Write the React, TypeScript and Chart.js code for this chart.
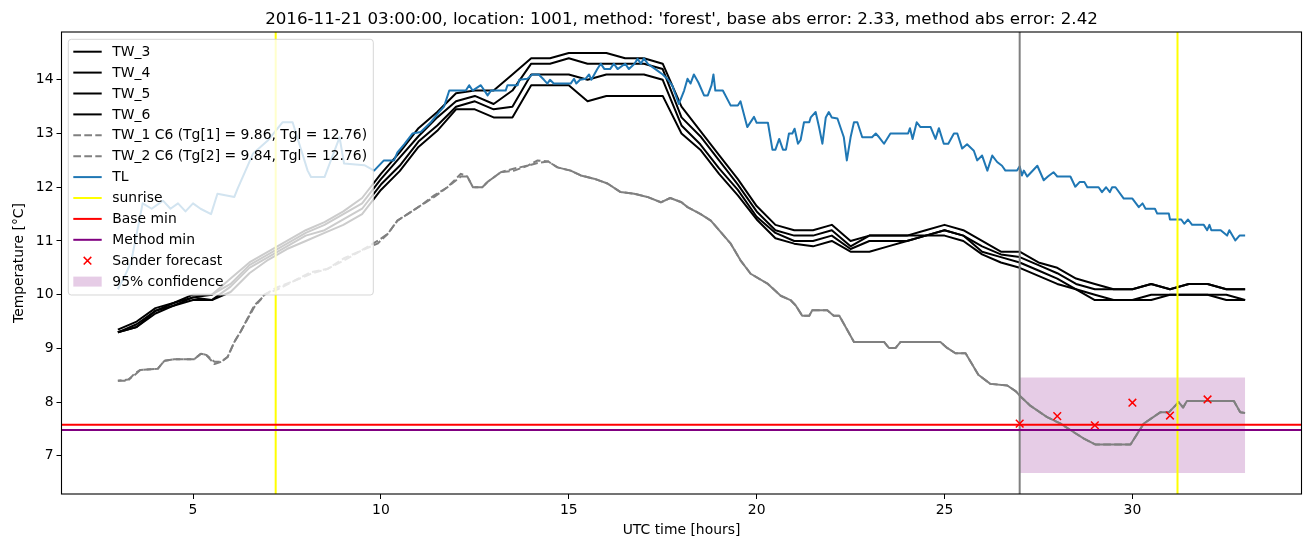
import React, { useEffect, useRef } from "react";
import { Chart, registerables } from "chart.js";
Chart.register(...registerables);

const FONT = '"DejaVu Sans", sans-serif';

const TITLE = "2016-11-21 03:00:00, location: 1001, method: 'forest', base abs error: 2.33, method abs error: 2.42";
const X_LABEL = "UTC time [hours]";
const Y_LABEL = "Temperature [°C]";

const xTicks = [5, 10, 15, 20, 25, 30];
const yTicks = [7, 8, 9, 10, 11, 12, 13, 14];
const X_MIN = 1.5;
const X_MAX = 34.5;
const Y_MIN = 6.29;
const Y_MAX = 14.89;

// common half-hour grid for the TW_3..TW_6 sensors
const twTimes = [3, 3.5, 4, 4.5, 5, 5.5, 6, 6.5, 7, 7.5, 8, 8.5, 9, 9.5, 10, 10.5, 11, 11.5, 12, 12.5, 13, 13.5, 14, 14.5, 15, 15.5, 16, 16.5, 17, 17.5, 18, 18.5, 19, 19.5, 20, 20.5, 21, 21.5, 22, 22.5, 23, 23.5, 24, 24.5, 25, 25.5, 26, 26.5, 27, 27.5, 28, 28.5, 29, 29.5, 30, 30.5, 31, 31.5, 32, 32.5, 33];
const tw3 = [9.35, 9.5, 9.75, 9.85, 10.0, 10.0, 10.3, 10.6, 10.8, 11.0, 11.2, 11.35, 11.55, 11.8, 12.25, 12.65, 13.1, 13.4, 13.75, 13.8, 13.8, 14.1, 14.4, 14.4, 14.5, 14.5, 14.5, 14.4, 14.4, 14.3, 13.5, 13.05, 12.6, 12.15, 11.65, 11.3, 11.2, 11.2, 11.3, 11.0, 11.1, 11.1, 11.1, 11.2, 11.3, 11.2, 11.0, 10.8, 10.8, 10.6, 10.5, 10.3, 10.2, 10.1, 10.1, 10.2, 10.1, 10.2, 10.2, 10.1, 10.1];
const tw4 = [9.3, 9.45, 9.7, 9.85, 9.95, 10.0, 10.2, 10.55, 10.75, 10.95, 11.15, 11.3, 11.5, 11.7, 12.15, 12.55, 12.95, 13.3, 13.6, 13.7, 13.55, 13.8, 14.3, 14.3, 14.4, 14.3, 14.3, 14.3, 14.3, 14.2, 13.3, 12.95, 12.5, 12.05, 11.55, 11.2, 11.1, 11.1, 11.2, 10.9, 11.1, 11.1, 11.1, 11.1, 11.2, 11.1, 10.9, 10.75, 10.7, 10.55, 10.4, 10.2, 10.1, 10.1, 10.1, 10.2, 10.1, 10.2, 10.2, 10.1, 10.1];
const tw5 = [9.3, 9.4, 9.7, 9.8, 9.95, 9.9, 10.15, 10.5, 10.7, 10.9, 11.1, 11.2, 11.4, 11.6, 12.05, 12.4, 12.85, 13.15, 13.5, 13.6, 13.45, 13.5, 14.1, 14.1, 14.1, 14.0, 14.1, 14.1, 14.1, 14.0, 13.15, 12.8, 12.35, 11.95, 11.45, 11.15, 11.0, 11.0, 11.1, 10.85, 11.0, 11.0, 11.0, 11.1, 11.2, 11.1, 10.8, 10.7, 10.6, 10.45, 10.3, 10.1, 10.0, 9.9, 9.9, 10.0, 10.0, 10.0, 10.0, 10.0, 9.9];
const tw6 = [9.3, 9.4, 9.65, 9.8, 9.9, 9.9, 10.05, 10.4, 10.65, 10.85, 11.0, 11.15, 11.3, 11.5, 11.95, 12.3, 12.75, 13.05, 13.45, 13.45, 13.3, 13.3, 13.9, 13.9, 13.9, 13.6, 13.7, 13.7, 13.7, 13.7, 13.0, 12.7, 12.25, 11.85, 11.4, 11.05, 10.95, 10.9, 11.0, 10.8, 10.8, 10.9, 11.0, 11.1, 11.1, 11.0, 10.75, 10.6, 10.5, 10.35, 10.2, 10.1, 9.9, 9.9, 9.9, 9.9, 10.0, 10.0, 10.0, 9.9, 9.9];

// [time, value]
const tw1: [number, number][] = [
  [3.0, 8.4], [3.27, 8.4], [3.44, 8.53], [3.6, 8.6], [4.06, 8.62], [4.24, 8.77], [4.5, 8.8], [5.03, 8.8], [5.21, 8.9], [5.35, 8.88],
  [5.57, 8.71], [5.75, 8.75], [5.92, 8.84], [6.1, 9.12], [6.28, 9.33], [6.63, 9.77], [6.81, 9.92], [6.9, 10.0], [7.25, 10.14], [7.7, 10.26],
  [8.14, 10.39], [8.58, 10.48], [9.02, 10.64], [9.47, 10.82], [9.91, 10.95], [10.18, 11.13], [10.44, 11.38], [10.71, 11.5], [11.06, 11.66], [11.42, 11.82],
  [11.77, 12.0], [12.13, 12.2], [12.3, 12.2], [12.45, 12.0], [12.7, 12.0], [12.84, 12.1], [13.19, 12.28], [13.55, 12.31], [13.9, 12.4], [14.17, 12.5],
  [14.45, 12.48], [14.7, 12.37], [15.05, 12.31], [15.32, 12.22], [15.67, 12.16], [16.03, 12.07], [16.38, 11.91], [16.74, 11.88], [17.09, 11.82], [17.45, 11.72],
  [17.7, 11.8], [18.0, 11.72], [18.16, 11.63], [18.51, 11.5], [18.78, 11.38], [19.31, 10.95], [19.57, 10.64], [19.84, 10.39], [20.3, 10.2], [20.64, 9.98],
  [20.9, 9.9], [21.04, 9.8], [21.21, 9.61], [21.4, 9.61], [21.48, 9.71], [21.88, 9.71], [22.05, 9.61], [22.2, 9.61], [22.59, 9.12], [23.39, 9.12],
  [23.52, 9.01], [23.7, 9.01], [23.83, 9.12], [24.89, 9.12], [25.07, 9.01], [25.29, 8.91], [25.56, 8.91], [25.9, 8.51], [26.22, 8.34], [26.67, 8.31],
  [26.9, 8.2], [27.0, 8.12], [27.29, 7.93], [27.73, 7.72], [28.09, 7.6], [28.44, 7.44], [28.71, 7.32], [29.02, 7.21], [29.95, 7.21], [30.3, 7.6],
  [30.74, 7.81], [30.97, 7.81], [31.23, 8.0], [31.35, 7.9], [31.45, 8.02], [32.7, 8.02], [32.87, 7.81], [33.0, 7.8],
];
const tw2: [number, number][] = [
  [3.0, 8.4], [3.27, 8.42], [3.44, 8.5], [3.6, 8.6], [4.06, 8.62], [4.24, 8.77], [4.5, 8.8], [5.03, 8.8], [5.21, 8.9], [5.35, 8.88],
  [5.57, 8.75], [5.75, 8.75], [5.92, 8.84], [6.1, 9.12], [6.28, 9.33], [6.63, 9.8], [6.81, 9.92], [6.9, 10.0], [7.25, 10.1], [7.7, 10.26],
  [8.14, 10.42], [8.58, 10.48], [9.02, 10.68], [9.47, 10.82], [9.91, 11.0], [10.18, 11.13], [10.44, 11.38], [10.71, 11.5], [11.06, 11.66], [11.42, 11.85],
  [11.77, 12.0], [12.13, 12.25], [12.3, 12.2], [12.45, 12.0], [12.7, 12.0], [12.84, 12.1], [13.19, 12.28], [13.55, 12.35], [13.9, 12.4], [14.17, 12.45],
  [14.45, 12.48], [14.7, 12.37], [15.05, 12.31], [15.32, 12.22], [15.67, 12.16], [16.03, 12.07], [16.38, 11.91], [16.74, 11.88], [17.09, 11.82], [17.45, 11.72],
  [17.7, 11.8], [18.0, 11.72], [18.16, 11.63], [18.51, 11.5], [18.78, 11.38], [19.31, 10.95], [19.57, 10.64], [19.84, 10.39], [20.3, 10.2], [20.64, 9.98],
  [20.9, 9.9], [21.04, 9.8], [21.21, 9.61], [21.4, 9.61], [21.48, 9.71], [21.88, 9.71], [22.05, 9.61], [22.2, 9.61], [22.59, 9.12], [23.39, 9.12],
  [23.52, 9.01], [23.7, 9.01], [23.83, 9.12], [24.89, 9.12], [25.07, 9.01], [25.29, 8.91], [25.56, 8.91], [25.9, 8.51], [26.22, 8.34], [26.67, 8.31],
  [26.9, 8.2], [27.0, 8.12], [27.29, 7.93], [27.73, 7.72], [28.09, 7.6], [28.44, 7.44], [28.71, 7.32], [29.02, 7.21], [29.95, 7.21], [30.3, 7.6],
  [30.74, 7.81], [30.97, 7.81], [31.23, 8.0], [31.35, 7.9], [31.45, 8.02], [32.7, 8.02], [32.87, 7.81], [33.0, 7.8],
];

const tl: [number, number][] = [
  [3.0, 10.1], [3.15, 10.3], [3.35, 10.6], [3.66, 11.7], [3.9, 11.6], [4.2, 11.75], [4.4, 11.6], [4.6, 11.7], [4.8, 11.55], [5.0, 11.7],
  [5.2, 11.6], [5.48, 11.5], [5.65, 11.88], [6.1, 11.82], [6.19, 11.98], [6.6, 12.63], [6.99, 12.87], [7.38, 13.21], [7.65, 13.21], [8.05, 12.31],
  [8.14, 12.19], [8.5, 12.19], [8.9, 12.93], [9.02, 12.44], [9.56, 12.41], [9.82, 12.31], [10.08, 12.5], [10.35, 12.5], [10.44, 12.65], [10.62, 12.8],
  [10.84, 13.0], [11.06, 13.03], [11.33, 13.21], [11.55, 13.4], [11.68, 13.5], [11.82, 13.8], [12.26, 13.8], [12.35, 13.9], [12.44, 13.8], [12.66, 13.9],
  [12.84, 13.71], [12.93, 13.8], [13.32, 13.8], [13.37, 13.9], [13.64, 13.9], [13.68, 14.0], [13.9, 14.02], [14.03, 14.1], [14.2, 14.1], [14.34, 14.0],
  [14.43, 13.93], [14.5, 14.0], [14.6, 13.93], [15.05, 13.93], [15.14, 14.02], [15.2, 13.93], [15.3, 14.0], [15.45, 14.02], [15.54, 14.1], [15.6, 14.0],
  [15.76, 14.2], [15.85, 14.3], [15.95, 14.2], [16.1, 14.2], [16.2, 14.3], [16.3, 14.2], [16.5, 14.3], [16.6, 14.2], [16.75, 14.3], [16.83, 14.39],
  [16.92, 14.3], [17.0, 14.4], [17.1, 14.3], [17.36, 14.17], [17.5, 14.1], [17.62, 14.02], [17.75, 13.9], [17.93, 13.55], [18.07, 13.8], [18.16, 14.02],
  [18.24, 13.93], [18.33, 14.1], [18.45, 13.95], [18.6, 13.71], [18.7, 13.71], [18.8, 13.9], [18.85, 14.1], [18.9, 13.8], [19.1, 13.8], [19.31, 13.52],
  [19.5, 13.52], [19.57, 13.6], [19.75, 13.12], [19.93, 13.31], [20.0, 13.2], [20.3, 13.2], [20.42, 12.7], [20.5, 12.7], [20.6, 12.9], [20.7, 12.7],
  [20.78, 12.7], [20.86, 13.0], [20.95, 13.0], [21.01, 13.09], [21.1, 12.81], [21.17, 12.88], [21.26, 13.21], [21.4, 13.21], [21.44, 13.3], [21.57, 13.4],
  [21.66, 13.12], [21.75, 12.81], [21.84, 13.3], [21.92, 13.4], [22.0, 13.3], [22.15, 13.28], [22.32, 12.93], [22.4, 12.5], [22.5, 12.93], [22.59, 13.21],
  [22.68, 13.21], [22.81, 12.93], [23.07, 12.93], [23.17, 13.0], [23.26, 12.93], [23.39, 12.81], [23.56, 13.0], [24.03, 13.0], [24.08, 13.1], [24.15, 12.9],
  [24.26, 13.21], [24.36, 13.12], [24.63, 13.12], [24.76, 12.9], [24.85, 13.1], [24.98, 12.81], [25.1, 12.81], [25.25, 13.0], [25.34, 13.0], [25.47, 12.72],
  [25.6, 12.8], [25.78, 12.68], [25.87, 12.5], [26.0, 12.59], [26.14, 12.31], [26.27, 12.59], [26.4, 12.47], [26.53, 12.4], [26.62, 12.31], [26.93, 12.31],
  [27.0, 12.39], [27.06, 12.22], [27.11, 12.31], [27.2, 12.2], [27.47, 12.4], [27.64, 12.13], [27.75, 12.2], [27.9, 12.28], [28.0, 12.2], [28.35, 12.2],
  [28.48, 12.01], [28.6, 12.1], [28.72, 12.1], [28.8, 12.0], [29.1, 12.0], [29.19, 11.91], [29.3, 12.0], [29.4, 11.91], [29.46, 12.0], [29.55, 12.0],
  [29.77, 11.79], [30.0, 11.79], [30.17, 11.63], [30.27, 11.7], [30.35, 11.6], [30.6, 11.6], [30.66, 11.51], [30.97, 11.51], [31.0, 11.4], [31.3, 11.4],
  [31.38, 11.32], [31.48, 11.4], [31.59, 11.3], [31.9, 11.3], [31.99, 11.2], [32.05, 11.3], [32.1, 11.2], [32.35, 11.2], [32.52, 11.1], [32.58, 11.2],
  [32.74, 11.01], [32.85, 11.1], [33.0, 11.1],
];

const sunriseTimes = [7.2, 31.2];
const forecastStart = 27.0;
const baseMin = 7.58;
const methodMin = 7.48;
const sanderTimes = [27, 28, 29, 30, 31, 32];
const sanderValues = [7.6, 7.74, 7.57, 7.99, 7.75, 8.05];
const confTimes = [27, 33];
const confLow = 6.68;
const confHigh = 8.46;

const legendLabels = [
  "TW_3", "TW_4", "TW_5", "TW_6",
  "TW_1 C6 (Tg[1] = 9.86, Tgl = 12.76)",
  "TW_2 C6 (Tg[2] = 9.84, Tgl = 12.76)",
  "TL", "sunrise", "Base min", "Method min", "Sander forecast", "95% confidence",
];

const BLUE = "#1f77b4";
const GRAY = "#808080";
const DASH = [7.7, 3.3];
const CONF_FILL = "rgba(128,0,128,0.2)";

const pairs = (p: [number, number][]) => p.map(([x, y]) => ({ x, y }));
const grid = (times: number[], vals: number[]) => times.map((x, i) => ({ x, y: vals[i] }));

const lineDs = (label: string, data: any[], color: string, extra: any = {}) => ({
  label,
  data,
  borderColor: color,
  backgroundColor: color,
  borderWidth: 2,
  pointRadius: 0,
  borderJoinStyle: "round",
  fill: false,
  tension: 0,
  ...extra,
});

function buildDatasets() {
  const list: any[] = [];
  list.push(
    lineDs("95% confidence", confTimes.map((x) => ({ x, y: confHigh })), "rgba(0,0,0,0)", {
      borderWidth: 0,
      fill: { value: confLow },
      backgroundColor: CONF_FILL,
    })
  );
  list.push(lineDs("TW_3", grid(twTimes, tw3), "#000"));
  list.push(lineDs("TW_4", grid(twTimes, tw4), "#000"));
  list.push(lineDs("TW_5", grid(twTimes, tw5), "#000"));
  list.push(lineDs("TW_6", grid(twTimes, tw6), "#000"));
  list.push(lineDs(legendLabels[4], pairs(tw1), GRAY, { borderDash: DASH }));
  list.push(
    lineDs(legendLabels[5], pairs(tw2), GRAY, {
      borderDash: DASH,
      borderDashOffset: 4,
      segment: { borderDash: (ctx: any) => (ctx.p0.parsed.x >= 14.5 ? [] : undefined) },
    })
  );
  list.push(lineDs("TL", pairs(tl), BLUE));
  sunriseTimes.forEach((t) =>
    list.push(lineDs("sunrise", [{ x: t, y: Y_MIN }, { x: t, y: Y_MAX }], "#ffff00"))
  );
  list.push(lineDs("forecast", [{ x: forecastStart, y: Y_MIN }, { x: forecastStart, y: Y_MAX }], GRAY));
  list.push(lineDs("Base min", [{ x: X_MIN, y: baseMin }, { x: X_MAX, y: baseMin }], "#ff0000"));
  list.push(lineDs("Method min", [{ x: X_MIN, y: methodMin }, { x: X_MAX, y: methodMin }], "#800080"));
  list.push({
    label: "Sander forecast",
    data: grid(sanderTimes, sanderValues),
    showLine: false,
    pointStyle: "crossRot",
    pointRadius: 5.4,
    pointBorderWidth: 1.5,
    borderColor: "#ff0000",
    backgroundColor: "#ff0000",
    pointBorderColor: "#ff0000",
  });
  return list.map((d, i) => ({ ...d, order: 100 - i }));
}

type LegendItem = { kind: "line" | "dash" | "marker" | "patch"; color: string };
const legendStyles: LegendItem[] = [
  { kind: "line", color: "#000" },
  { kind: "line", color: "#000" },
  { kind: "line", color: "#000" },
  { kind: "line", color: "#000" },
  { kind: "dash", color: GRAY },
  { kind: "dash", color: GRAY },
  { kind: "line", color: BLUE },
  { kind: "line", color: "#ffff00" },
  { kind: "line", color: "#ff0000" },
  { kind: "line", color: "#800080" },
  { kind: "marker", color: "#ff0000" },
  { kind: "patch", color: CONF_FILL },
];

const framePlugin = {
  id: "frame",
  afterDatasetsDraw(chart: any) {
    const { ctx, chartArea: a } = chart;
    ctx.save();
    ctx.strokeStyle = "#000";
    ctx.lineWidth = 1.1;
    ctx.strokeRect(a.left, a.top, a.right - a.left, a.bottom - a.top);
    ctx.restore();
  },
};

const decorPlugin = {
  id: "decor",
  afterDraw(chart: any) {
    const { ctx, chartArea: a } = chart;
    ctx.save();
    // title
    ctx.fillStyle = "#000";
    ctx.font = `16.7px ${FONT}`;
    ctx.textAlign = "center";
    ctx.textBaseline = "alphabetic";
    ctx.fillText(TITLE, (a.left + a.right) / 2, 23.5);
    // axis labels
    ctx.font = `13.9px ${FONT}`;
    ctx.fillText(X_LABEL, (a.left + a.right) / 2, 534);
    ctx.save();
    ctx.translate(23, (a.top + a.bottom) / 2);
    ctx.rotate(-Math.PI / 2);
    ctx.fillText(Y_LABEL, 0, 0);
    ctx.restore();

    // legend
    const x0 = a.left + 6.8, y0 = a.top + 7.3, x1 = 373.3, y1 = 295, r = 3;
    ctx.beginPath();
    ctx.moveTo(x0 + r, y0);
    ctx.lineTo(x1 - r, y0);
    ctx.arcTo(x1, y0, x1, y0 + r, r);
    ctx.lineTo(x1, y1 - r);
    ctx.arcTo(x1, y1, x1 - r, y1, r);
    ctx.lineTo(x0 + r, y1);
    ctx.arcTo(x0, y1, x0, y1 - r, r);
    ctx.lineTo(x0, y0 + r);
    ctx.arcTo(x0, y0, x0 + r, y0, r);
    ctx.closePath();
    ctx.fillStyle = "rgba(255,255,255,0.8)";
    ctx.fill();
    ctx.strokeStyle = "rgba(204,204,204,0.8)";
    ctx.lineWidth = 1;
    ctx.stroke();

    const hx0 = x0 + 5, hx1 = x0 + 33.4, tx = x0 + 44;
    ctx.textAlign = "left";
    ctx.textBaseline = "middle";
    legendLabels.forEach((label, i) => {
      const cy = y0 + 12.4 + i * 20.9;
      const st = legendStyles[i];
      ctx.save();
      if (st.kind === "line" || st.kind === "dash") {
        ctx.strokeStyle = st.color;
        ctx.lineWidth = 2;
        ctx.setLineDash(st.kind === "dash" ? DASH : []);
        ctx.beginPath();
        ctx.moveTo(hx0, cy);
        ctx.lineTo(hx1, cy);
        ctx.stroke();
      } else if (st.kind === "marker") {
        const cx = (hx0 + hx1) / 2, d = 3.8;
        ctx.strokeStyle = st.color;
        ctx.lineWidth = 1.5;
        ctx.beginPath();
        ctx.moveTo(cx - d, cy - d);
        ctx.lineTo(cx + d, cy + d);
        ctx.moveTo(cx - d, cy + d);
        ctx.lineTo(cx + d, cy - d);
        ctx.stroke();
      } else {
        ctx.fillStyle = st.color;
        ctx.fillRect(hx0, cy - 5, hx1 - hx0, 10);
      }
      ctx.restore();
      ctx.fillStyle = "#000";
      ctx.fillText(label, tx, cy + 0.5);
    });
    ctx.restore();
  },
};

const axisCommon = (ticks: number[], fit: (s: any) => void) => ({
  type: "linear" as const,
  afterBuildTicks: (s: any) => {
    s.ticks = ticks.map((v) => ({ value: v }));
  },
  afterFit: fit,
  grid: { drawOnChartArea: false, drawTicks: true, tickLength: 5, color: "#000", lineWidth: 1 },
  border: { display: false },
  ticks: {
    color: "#000",
    font: { family: FONT, size: 13.9 },
    padding: 3,
    maxRotation: 0,
    autoSkip: false,
    callback: (v: any) => String(v),
  },
});

export default function App() {
  const ref = useRef<HTMLCanvasElement>(null);
  useEffect(() => {
    const canvas = ref.current;
    if (!canvas) return;
    const chart = new Chart(canvas, {
      type: "line",
      data: { datasets: buildDatasets() },
      options: {
        responsive: false,
        devicePixelRatio: 1,
        animation: false,
        events: [],
        layout: { padding: { left: 0, right: 9.5, top: 32, bottom: 0 } },
        plugins: { legend: { display: false }, title: { display: false }, tooltip: { enabled: false } },
        scales: {
          x: { ...axisCommon(xTicks, (s: any) => { s.height = 53; }), min: X_MIN, max: X_MAX },
          y: { ...axisCommon(yTicks, (s: any) => { s.width = 61.5; }), min: Y_MIN, max: Y_MAX },
        },
      } as any,
      plugins: [framePlugin, decorPlugin],
    });
    return () => chart.destroy();
  }, []);
  return (
    <div style={{ position: "absolute", left: 0, top: 0, width: 1311, height: 547, background: "#fff" }}>
      <canvas ref={ref} width={1311} height={547} style={{ display: "block", width: 1311, height: 547 }} />
    </div>
  );
}
